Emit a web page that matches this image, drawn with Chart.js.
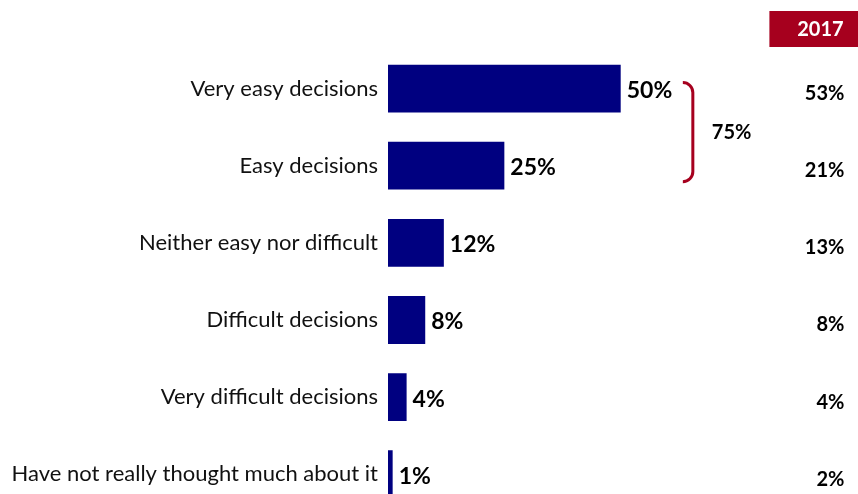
<!DOCTYPE html>
<html>
<head>
<meta charset="utf-8">
<script src="https://cdn.jsdelivr.net/npm/chart.js@4.4.1/dist/chart.umd.min.js"></script>
<style>
  html, body { margin: 0; padding: 0; background: #fff; overflow: hidden; }
  .chart-box { position: relative; width: 858px; height: 536px; }
</style>
</head>
<body>
<div class="chart-box"><canvas id="decisionsChart"></canvas></div>
<script>
const categories = [
    'Very easy decisions',
    'Easy decisions',
    'Neither easy nor difficult',
    'Difficult decisions',
    'Very difficult decisions',
    'Have not really thought much about it'
];
const currentValues = [50, 25, 12, 8, 4, 1];
const values2017 = [53, 21, 13, 8, 4, 2];
const compareYear = '2017';
const bracketRows = [0, 1]; // very easy + easy
const bracketTotal = 75;

const NAVY = '#000080';
const RED = '#A6001E';
const FONT = 'Lato, "Open Sans", sans-serif';

const pct = v => `${v}%`;

const annotationsPlugin = {
    id: 'annotations',
    afterDatasetsDraw(chart) {
        const { ctx, chartArea, scales: { x } } = chart;
        const bars = chart.getDatasetMeta(0).data;
        ctx.save();

        // value labels next to each bar
        ctx.fillStyle = '#000';
        ctx.font = `bold 23px ${FONT}`;
        ctx.textAlign = 'left';
        ctx.textBaseline = 'middle';
        bars.forEach((bar, i) => {
            ctx.fillText(pct(currentValues[i]), bar.x + 6, bar.y + 2);
        });

        // comparison year column
        const colRight = chartArea.right - 9;
        ctx.fillStyle = RED;
        ctx.fillRect(chartArea.right - 84, 11, chart.width, 36);
        ctx.fillStyle = '#fff';
        ctx.font = `bold 20px ${FONT}`;
        ctx.textAlign = 'center';
        ctx.fillText(compareYear, colRight - 24, 30);

        ctx.fillStyle = '#000';
        ctx.textAlign = 'right';
        bars.forEach((bar, i) => {
            ctx.fillText(pct(values2017[i]), colRight, bar.y + 5);
        });

        // bracket around the two "easy" rows
        const top = bars[bracketRows[0]].y - 6;
        const bottom = bars[bracketRows[1]].y + 16;
        const bx = x.getPixelForValue(65.5);
        const r = 10;
        ctx.strokeStyle = RED;
        ctx.lineWidth = 3;
        ctx.beginPath();
        ctx.moveTo(bx - r, top);
        ctx.arcTo(bx, top, bx, top + r, r);
        ctx.lineTo(bx, bottom - r);
        ctx.arcTo(bx, bottom, bx - r, bottom, r);
        ctx.stroke();

        ctx.fillStyle = '#000';
        ctx.font = `bold 20px ${FONT}`;
        ctx.textAlign = 'left';
        ctx.fillText(pct(bracketTotal), bx + 19, (top + bottom) / 2);

        ctx.restore();
    }
};

const ctx = document.getElementById('decisionsChart').getContext('2d');
new Chart(ctx, {
    type: 'bar',
    data: {
        labels: categories,
        datasets: [{
            data: currentValues,
            backgroundColor: NAVY,
            borderWidth: 0,
            categoryPercentage: 1,
            barPercentage: 0.62
        }]
    },
    options: {
        indexAxis: 'y',
        responsive: true,
        maintainAspectRatio: false,
        animation: false,
        layout: { padding: { top: 50, bottom: 0, left: 0, right: 4.6 } },
        plugins: {
            legend: { display: false },
            tooltip: { enabled: false }
        },
        scales: {
            x: { display: false, min: 0, max: 100 },
            y: {
                grid: { display: false, drawTicks: false },
                border: { display: false },
                ticks: {
                    color: '#111',
                    padding: 10,
                    font: { family: FONT, size: 22 }
                },
                afterFit(scale) { scale.width = 388; }
            }
        }
    },
    plugins: [annotationsPlugin]
});
</script>
</body>
</html>
